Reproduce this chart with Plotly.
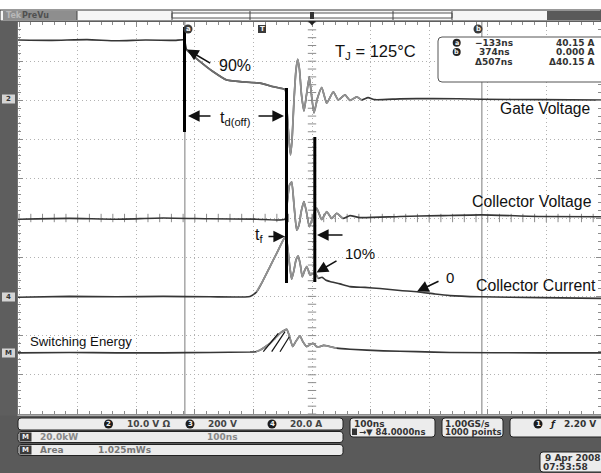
import numpy as np
import plotly.graph_objects as go

# ---------------- waveform samples read from the screen ----------------
# time in ns, vertical position in screen divisions from the centre line
gate_t = [-418, -360, -300, -250, -200, -150, -134, -130, -107, -84.5, -61.6, -38.9, -4.8, 17.9, 37.9,
          41.3, 44.7, 47.3, 49.9, 53.3, 56.7, 59.6, 62.7, 66.1, 70.3, 74.6, 79.4, 83.1, 87.4, 93.4,
          100.6, 109.1, 120.4, 128.9, 140.3, 148.9, 160.3, 168.8, 179.6, 191.5, 234.2, 290.6, 374.2,
          473.2, 577.3]
gate_v = [4.54, 4.53, 4.55, 4.52, 4.54, 4.53, 4.54, 4.29, 3.99, 3.73, 3.52, 3.48, 3.44, 3.35, 3.28,
          2.76, 1.99, 1.61, 1.99, 3.01, 3.78, 4.05, 3.78, 3.14, 2.73, 3.14, 3.60, 3.14, 2.68, 3.06,
          3.33, 2.93, 3.22, 3.01, 3.14, 3.00, 3.09, 3.01, 3.07, 3.02, 3.04, 3.05, 3.03, 3.02, 3.01]

vce_t = [-418, -330, -250, -170, -90, -10, 37.9, 41.3, 45.6, 49.3, 53.3, 57.9, 61.8, 66.1, 70.3, 74.6,
         79.4, 84.9, 92.0, 100.6, 109.1, 117.6, 126.2, 136.9, 148.9, 165.9, 234.2, 302.5, 374.2, 473.2,
         577.3]
vce_v = [-0.03, -0.01, -0.03, 0.0, -0.02, -0.03, -0.03, 0.33, 0.84, 0.92, 0.33, -0.31, -0.18, 0.20,
         0.42, 0.15, -0.22, 0.0, 0.25, -0.04, 0.16, -0.01, 0.12, -0.01, 0.06, 0.01, 0.04, 0.06, 0.08,
         0.04, 0.03]

ic_t = [-418, -330, -250, -170, -90, -21.8, -10.4, 0.9, 12.3, 23.7, 35.0, 39.6, 43.0, 46.4, 49.3,
        53.3, 56.7, 60.6, 64.4, 67.4, 71.2, 74.9, 78.0, 80.6, 84.9, 89.1, 94.8, 101.1, 107.9, 114.7,
        131.8, 148.9, 174.5, 200.1, 234.2, 263.2, 294.0, 319.6, 370.8, 473.2, 577.3]
ic_v = [-2.02, -2.00, -2.01, -2.00, -2.01, -2.00, -1.88, -1.58, -1.24, -0.90, -0.56, -0.46, -0.82,
        -1.28, -1.56, -1.33, -1.07, -0.97, -1.22, -1.50, -1.35, -1.24, -1.35, -1.45, -1.43, -1.41,
        -1.54, -1.51, -1.59, -1.62, -1.68, -1.75, -1.77, -1.80, -1.85, -1.88, -1.94, -1.98, -2.01,
        -2.03, -2.05]

e_t = [-418, -330, -250, -170, -90, -21.8, -11.6, -4.8, 3.8, 12.3, 20.8, 29.4, 36.2, 40.8, 44.7,
       51.1, 56.7, 63.5, 68.6, 74.9, 80.6, 86.2, 91.7, 97.7, 103.6, 109.1, 126.2, 148.9, 205.7,
       262.7, 319.6, 473.2, 577.3]
e_v = [-3.44, -3.43, -3.44, -3.44, -3.43, -3.42, -3.41, -3.37, -3.29, -3.20, -3.07, -2.94, -2.87,
       -2.84, -2.98, -3.28, -3.14, -3.01, -3.16, -3.28, -3.23, -3.20, -3.28, -3.28, -3.25, -3.26,
       -3.32, -3.35, -3.39, -3.41, -3.43, -3.44, -3.44]

cursor_t = [-133, 374]          # ns (cursor a, cursor b)
cursor_names = ["a", "b"]
trigger_t = 0
h_delay_ns = 84                 # horizontal delay = screen centre
readout_time = ["\u2212133ns", "374ns", "\u0394507ns"]
readout_amp = ["40.15 A", "0.000 A", "\u039440.15 A"]
ch_numbers = ["2", "3", "4"]
ch_scales = ["10.0 V \u03a9", "200 V", "20.0 A"]

# ---------------- screen geometry (pixels) ----------------
FIG_W, FIG_H = 601, 473
L, R, T, B = 18, 601, 22, 414
NS_PER_PX = (cursor_t[1] - cursor_t[0]) / 297.0
CENTER_PX = 312


def tx(x):
    return h_delay_ns + (x - CENTER_PX) * NS_PER_PX


def px(x):
    return (x - L) / (R - L)


def py(y):
    return (B - y) / (B - T)


LABEL_FONT = "Liberation Sans, Arial, sans-serif"
UI_FONT = "DejaVu Sans, sans-serif"

shapes, annos = [], []


def rect(x0, y0, x1, y1, fill, line=None, lw=1.0, layer="above"):
    shapes.append(dict(type="rect", xref="paper", yref="paper", x0=px(x0), x1=px(x1),
                       y0=py(y1), y1=py(y0), fillcolor=fill,
                       line=dict(color=line if line else fill, width=lw if line else 0),
                       layer=layer))


def rrect(x0, y0, x1, y1, r, fill, line="#222", lw=1.0):
    p = (f"M{px(x0 + r)},{py(y0)} L{px(x1 - r)},{py(y0)} Q{px(x1)},{py(y0)} {px(x1)},{py(y0 + r)} "
         f"L{px(x1)},{py(y1 - r)} Q{px(x1)},{py(y1)} {px(x1 - r)},{py(y1)} "
         f"L{px(x0 + r)},{py(y1)} Q{px(x0)},{py(y1)} {px(x0)},{py(y1 - r)} "
         f"L{px(x0)},{py(y0 + r)} Q{px(x0)},{py(y0)} {px(x0 + r)},{py(y0)} Z")
    shapes.append(dict(type="path", xref="paper", yref="paper", path=p, fillcolor=fill,
                       line=dict(color=line, width=lw), layer="above"))


def seg(x0, y0, x1, y1, color="#000", width=1.0, layer="above"):
    shapes.append(dict(type="line", xref="paper", yref="paper", x0=px(x0), y0=py(y0),
                       x1=px(x1), y1=py(y1), line=dict(color=color, width=width), layer=layer))


def label(x, y, s, size=9, color="#222", family=UI_FONT, anchor="left"):
    annos.append(dict(xref="paper", yref="paper", x=px(x), y=py(y), text=s, showarrow=False,
                      xanchor=anchor, yanchor="middle", borderpad=0,
                      font=dict(size=size, color=color, family=family)))


def badge(cx, cy, s, r=4.5, fill="#1e1e1e", color="#f2f2f2", size=7, square=False):
    shapes.append(dict(type="rect" if square else "circle", xref="paper", yref="paper",
                       x0=px(cx - r), x1=px(cx + r), y0=py(cy + r), y1=py(cy - r),
                       fillcolor=fill, line=dict(width=0), layer="above"))
    label(cx, cy, "<b>%s</b>" % s, size=size, color=color, anchor="center")


def arrow(hx, hy, tx_, ty_):
    annos.append(dict(xref="paper", yref="paper", x=px(hx), y=py(hy), ax=tx_ - hx, ay=ty_ - hy,
                      text="", showarrow=True, arrowhead=2, arrowsize=1.45, arrowwidth=1.6,
                      arrowcolor="#111", standoff=0))


fig = go.Figure()

# graticule centre-line tick marks
cty = np.round(np.arange(-5, 5.001, 0.2), 3)
fig.add_trace(go.Scatter(x=[h_delay_ns] * len(cty), y=cty, mode="markers", hoverinfo="skip",
                         marker=dict(symbol="line-ew", size=6, line=dict(width=1, color="#8c8c8c"))))
ctx = np.arange(h_delay_ns - 500, h_delay_ns + 501, 20)
fig.add_trace(go.Scatter(x=ctx, y=[0] * len(ctx), mode="markers", hoverinfo="skip",
                         marker=dict(symbol="line-ns", size=6, line=dict(width=1, color="#8c8c8c"))))


def add_wave(t, v, windows):
    t = np.asarray(t, float)
    v = np.asarray(v, float)
    fig.add_trace(go.Scatter(x=t, y=v, mode="lines", hoverinfo="skip",
                             line=dict(color="#363636", width=1.6, shape="spline", smoothing=0.5)))
    for a, b, col in windows:
        m = (t >= a) & (t <= b)
        fig.add_trace(go.Scatter(x=t[m], y=v[m], mode="lines", hoverinfo="skip",
                                 line=dict(color=col, width=1.8, shape="spline", smoothing=0.5)))


add_wave(gate_t, gate_v, [(-131, 38, "#6e6e6e"), (38, 175, "#929292")])
add_wave(vce_t, vce_v, [(38, 140, "#929292")])
add_wave(ic_t, ic_v, [(-12, 95, "#929292")])
add_wave(e_t, e_v, [(-12, 130, "#929292")])

# cursor lines
for ct in cursor_t:
    shapes.append(dict(type="line", xref="x", yref="y", x0=ct, x1=ct, y0=-5, y1=5,
                       line=dict(color="#7a7a7a", width=1), layer="between"))

# ---------------- annotations on the graticule ----------------
seg(184.5, 27, 184.5, 132, "#000", 3)
seg(286.5, 88, 286.5, 283, "#000", 3)
seg(314.8, 137, 314.8, 282, "#000", 3)
for (x0, y0, x1, y1) in [(263.3, 351.7, 278.3, 333.3), (271.7, 351.7, 285, 331.7), (280, 351.7, 289.3, 336.7)]:
    seg(x0, y0, x1, y1, "#111", 1.2)

arrow(187, 49.5, 211.7, 64)
arrow(188, 116, 212, 116)
arrow(284, 116, 257, 116)
arrow(285, 236.5, 267, 236.5)
arrow(317, 235, 344, 235)
arrow(316.5, 272.5, 338, 260)
arrow(417, 291.5, 440, 280.5)

label(235, 65, "90%", 16, "#111", LABEL_FONT, "center")
label(235, 118, "t<sub>d(off)</sub>", 16, "#111", LABEL_FONT, "center")
label(259, 235, "t<sub>f</sub>", 16, "#111", LABEL_FONT, "center")
label(360, 253, "10%", 15, "#111", LABEL_FONT, "center")
label(450, 277, "0", 15, "#111", LABEL_FONT, "center")
label(375, 52, "T<sub>J</sub> = 125°C", 16.5, "#111", LABEL_FONT, "center")
label(544.5, 108.5, "Gate Voltage", 15.6, "#111", LABEL_FONT, "center")
label(531.7, 202, "Collector Voltage", 15.8, "#111", LABEL_FONT, "center")
label(536, 285, "Collector Current", 15.8, "#111", LABEL_FONT, "center")
label(80.5, 341, "Switching Energy", 13.2, "#111", LABEL_FONT, "center")

# cursor / trigger markers at the top of the graticule
badge(188, 29, cursor_names[0], r=4.5, fill="#3a3a3a")
badge(262, 29, "T", r=4, fill="#3a3a3a", square=True)
badge(478, 29, cursor_names[1], r=4.5, fill="#3a3a3a")

# cursor readout box
rrect(438, 37, 612, 82, 4, "white", "#555", 1)
badge(456.7, 42.7, cursor_names[0], r=4, fill="#222", size=6.5)
badge(456.7, 52, cursor_names[1], r=4, fill="#222", size=6.5)
for i, (tt, aa) in enumerate(zip(readout_time, readout_amp)):
    yy = [42.7, 52, 61.7][i]
    label(494, yy, "<b>%s</b>" % tt, 9, "#333", UI_FONT, "center")
    label(596, yy, "<b>%s</b>" % aa, 9, "#333", UI_FONT, "right")

# ---------------- top record bar ----------------
rect(0, 10, 601, 21, "#f6f6f6", "#333", 1)
rect(3, 11, 77, 20, "#8e8e8e")
label(5, 15.5, "<b>Tek</b>", 8, "#b8b8b8")
label(21, 15.5, "<b>PreVu</b>", 8, "#505050")
rect(172, 13, 452, 18, "white", "#555", 1)
for xd in [77, 172, 250, 393, 452]:
    seg(xd, 11, xd, 20, "#444", 1)
rect(547, 11, 601, 20, "#5a5a5a")
rect(310, 12, 314, 19, "#333")
shapes.append(dict(type="path", xref="paper", yref="paper",
                   path=f"M{px(308)},{py(21)} L{px(316)},{py(21)} L{px(312)},{py(25.5)} Z",
                   fillcolor="#222", line=dict(width=0), layer="above"))

# left strip with channel ground markers
rect(0, 21, 17.5, 416, "#5e5e5e")
for (yy, s) in [(99, "2"), (297, "4"), (353, "M")]:
    rect(2, yy - 4.5, 15, yy + 4.5, "#d4d4d4")
    label(8.5, yy, "<b>%s</b>" % s, 7, "#333", UI_FONT, "center")

# ---------------- bottom status area ----------------
rect(0, 415.5, 601, 473, "#5a5a5a")
rrect(18, 418, 343, 430, 3, "#ececec", "#222", 1)
rrect(18, 431.5, 343, 442.5, 3, "#ececec", "#222", 1)
rrect(18, 444.5, 343, 455.5, 3, "#ececec", "#222", 1)
for cx, n, sx, sc in zip([108.5, 190, 272], ch_numbers, [126, 207, 289], ch_scales):
    badge(cx, 424, n, r=4.5, fill="#1c1c1c")
    label(sx, 424, "<b>%s</b>" % sc, 9, "#444")
for yy in [437, 450]:
    rect(19.5, yy - 4.5, 31.5, yy + 4.5, "#3a3a3a")
    label(25.5, yy, "<b>M</b>", 7, "#eeeeee", UI_FONT, "center")
label(39, 437, "<b>20.0kW</b>", 9, "#888")
label(206, 437, "<b>100ns</b>", 9, "#888")
label(39, 450, "<b>Area</b>", 9, "#777")
label(97, 450, "<b>1.025mWs</b>", 9, "#777")

rrect(350, 418, 435, 437, 3, "#ececec", "#222", 1)
label(353, 423.5, "<b>100ns</b>", 9, "#333")
rect(352, 428.5, 357, 435, "#333")
label(358, 432, "<b>\u2192\u25bc 84.0000ns</b>", 8.5, "#333")

rrect(442, 418, 503, 437, 3, "#ececec", "#222", 1)
label(444, 423.5, "<b>1.00GS/s</b>", 9, "#333")
label(444, 432, "<b>1000 points</b>", 8.5, "#333")

rrect(510, 418, 612, 437, 3, "#ececec", "#222", 1)
badge(538, 424, "1", r=4.5, fill="#1c1c1c")
label(548, 424, "<b><i>\u0192</i></b>", 9, "#222")
label(563, 424, "<b>2.20 V</b>", 9, "#333")

rrect(540, 452, 612, 472, 3, "#ececec", "#222", 1)
label(544, 457.5, "<b>9 Apr 2008</b>", 9, "#333")
label(542, 466.5, "<b>07:53:58</b>", 9, "#333")

axis_common = dict(showticklabels=False, zeroline=False, showgrid=True, gridcolor="#b2b2b2",
                   griddash="1px,3px", gridwidth=1, ticks="inside", ticklen=5, tickcolor="#8c8c8c",
                   showline=True, linecolor="#8c8c8c", linewidth=1, mirror="ticks", fixedrange=True)

fig.update_layout(
    width=FIG_W, height=FIG_H,
    margin=dict(l=L, r=FIG_W - R, t=T, b=FIG_H - B, pad=0),
    paper_bgcolor="white", plot_bgcolor="white", showlegend=False,
    xaxis=dict(range=[tx(L), tx(R)], tick0=h_delay_ns, dtick=100,
               minor=dict(tick0=h_delay_ns, dtick=20, ticks="inside", ticklen=3,
                          tickcolor="#8c8c8c", showgrid=False), **axis_common),
    yaxis=dict(range=[-5, 5], tick0=0, dtick=1,
               minor=dict(dtick=0.2, ticks="inside", ticklen=3, tickcolor="#8c8c8c",
                          showgrid=False), **axis_common),
    shapes=shapes, annotations=annos,
)

fig.write_html("out.html", config={"displayModeBar": False},
               post_script="document.body.style.margin='0px';document.body.style.overflow='hidden';")
